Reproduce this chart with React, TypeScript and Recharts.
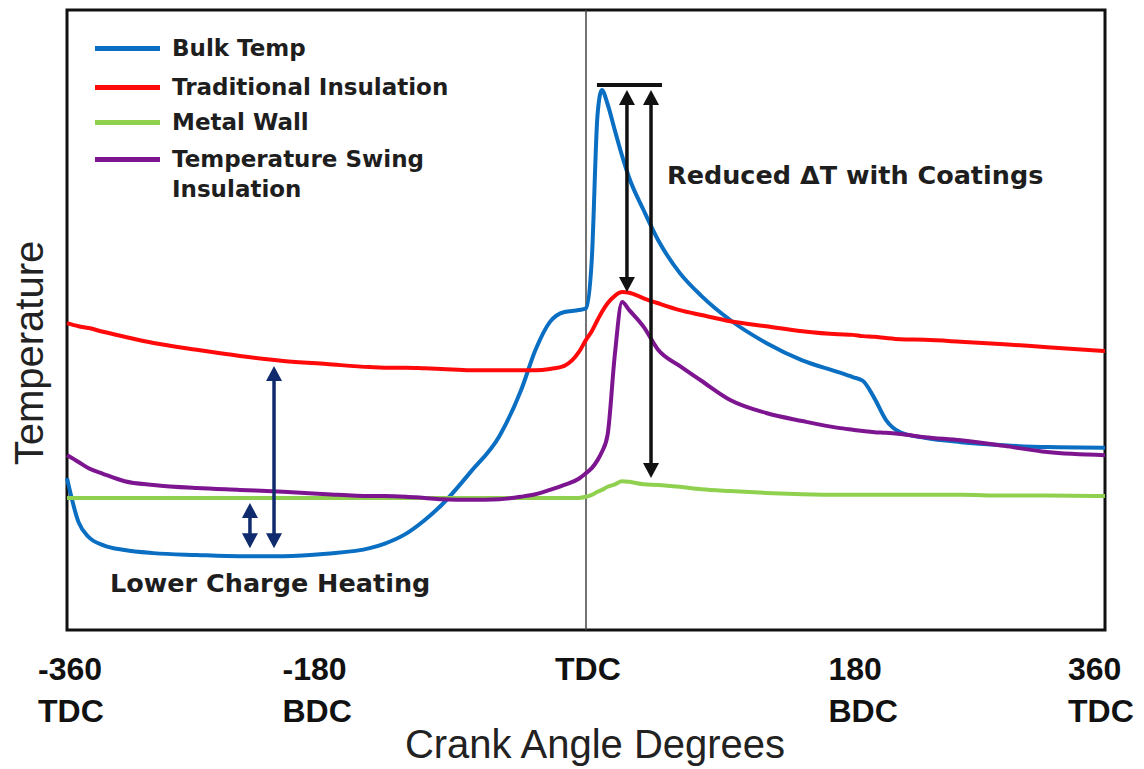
import React from "react";
import {
  ComposedChart,
  Line,
  XAxis,
  YAxis,
  Legend,
  ReferenceLine,
  ReferenceArea,
  ReferenceDot,
} from "recharts";

// crank angle (deg) where every curve is sampled
const angles = [
  -360, -352, -345, -335, -320, -300, -270, -240, -210, -180,
  -150, -140, -125, -112, -100,
  -80, -60, -45, -35, -25, -15, -5,
  0, 4, 8, 11, 15, 20, 25, 30, 40, 50,
  65, 80, 100, 125, 150,
  175, 185, 192, 200, 208, 218, 235,
  260, 290, 320, 360,
];

// temperature in arbitrary units (0 = bottom of frame, 100 = top)
const bulkTemp = [
  24.5, 17.4, 15.0, 13.7, 12.9, 12.4, 12.1, 11.9, 11.9, 12.3,
  13.2, 13.9, 15.5, 17.7, 20.2,
  25.5, 31.3, 38.7, 45.2, 49.7, 51.3, 51.6,
  51.9, 59.7, 83.1, 87.1, 84.8, 80.6, 76.5, 72.9, 67.7, 62.9,
  57.6, 53.9, 50.0, 46.3, 43.5,
  41.6, 40.8, 40.2, 37.4, 33.9, 31.9, 31.0,
  30.3, 29.8, 29.5, 29.4,
];

const traditionalInsulation = [
  49.5, 49.0, 48.7, 48.1, 47.3, 46.3, 45.2, 44.2, 43.4, 42.9,
  42.4, 42.3, 42.3, 42.2, 42.1,
  41.9, 41.9, 41.9, 41.9, 42.1, 42.6, 44.8,
  46.8, 48.2, 50.0, 51.3, 52.7, 53.9, 54.5, 54.4, 53.5, 52.7,
  51.6, 50.8, 49.8, 49.0, 48.2,
  47.7, 47.6, 47.4, 47.3, 47.1, 46.9, 46.8,
  46.5, 46.1, 45.6, 45.0,
];

const metalWall = [
  21.3, 21.3, 21.3, 21.3, 21.3, 21.3, 21.3, 21.3, 21.3, 21.3,
  21.3, 21.3, 21.3, 21.3, 21.3,
  21.3, 21.3, 21.3, 21.3, 21.3, 21.3, 21.3,
  21.5, 21.8, 22.3, 22.6, 23.1, 23.5, 24.0, 23.9, 23.5, 23.4,
  23.1, 22.7, 22.4, 22.1, 21.9,
  21.8, 21.8, 21.8, 21.8, 21.8, 21.8, 21.8,
  21.8, 21.7, 21.7, 21.6,
];

const tempSwingInsulation = [
  28.2, 27.1, 26.1, 25.2, 24.0, 23.4, 22.9, 22.6, 22.3, 21.9,
  21.6, 21.6, 21.5, 21.3, 21.1,
  21.0, 21.1, 21.5, 21.9, 22.6, 23.4, 24.4,
  25.3, 26.1, 27.4, 28.7, 31.5, 44.4, 52.9, 51.6, 48.9, 45.2,
  42.6, 40.2, 37.1, 35.0, 33.7,
  32.6, 32.3, 32.1, 31.9, 31.8, 31.6, 31.1,
  30.6, 29.7, 28.7, 28.2,
];

const tickValues = [-360, -180, 0, 180, 360];
const tickTop = ["-360", "-180", "TDC", "180", "360"];
const tickBottom = ["TDC", "BDC", "", "BDC", "TDC"];
// the two-line tick labels are left aligned, a little off their tick
const tickShift = [-29, -44, -31, -17, -37];

const series = [
  { key: "bulk", name: "Bulk Temp", color: "#0a6fc2" },
  { key: "traditional", name: "Traditional Insulation", color: "#ff0a0a" },
  { key: "metal", name: "Metal Wall", color: "#8fd14f" },
  { key: "swing", name: "Temperature Swing Insulation", color: "#7d1590" },
];

const data = angles.map((angle, i) => ({
  angle,
  bulk: bulkTemp[i],
  traditional: traditionalInsulation[i],
  metal: metalWall[i],
  swing: tempSwingInsulation[i],
}));

const boldFont = "'DejaVu Sans', Verdana, sans-serif";
const plainFont = "'Liberation Sans', Arial, sans-serif";

// vertical double-headed arrow drawn over a ReferenceLine segment
const makeArrow = (color: string, width: number, head: number, headW: number) => (props: any) => {
  const { x1, y1, x2, y2 } = props;
  if (x1 == null || y1 == null) return <g />;
  const x = (x1 + x2) / 2;
  const top = Math.min(y1, y2);
  const bottom = Math.max(y1, y2);
  return (
    <g>
      <line x1={x} y1={top + head - 1} x2={x} y2={bottom - head + 1} stroke={color} strokeWidth={width} />
      <polygon points={`${x},${top} ${x - headW / 2},${top + head} ${x + headW / 2},${top + head}`} fill={color} />
      <polygon points={`${x},${bottom} ${x - headW / 2},${bottom - head} ${x + headW / 2},${bottom - head}`} fill={color} />
    </g>
  );
};

const blackArrow = makeArrow("#111", 3.5, 15, 16);
const navyArrow = makeArrow("#102a6e", 3.5, 15, 16);

const AngleTick = ({ x, y, payload }: any) => {
  const i = tickValues.indexOf(payload.value);
  const left = x + tickShift[i];
  return (
    <g fill="#111" fontFamily={plainFont} fontWeight="bold" fontSize={32}>
      <text x={left} y={y + 48} textAnchor="start">{tickTop[i]}</text>
      <text x={left} y={y + 90} textAnchor="start">{tickBottom[i]}</text>
    </g>
  );
};

const XTitle = ({ viewBox }: any) => (
  <text
    x={viewBox.x + viewBox.width / 2 + 9}
    y={758}
    textAnchor="middle"
    fontFamily={plainFont}
    fontSize={40}
    fill="#222"
  >
    Crank Angle Degrees
  </text>
);

const YTitle = () => (
  <text
    x={43}
    y={353}
    transform="rotate(-90, 43, 353)"
    textAnchor="middle"
    fontFamily={plainFont}
    fontSize={40}
    fill="#222"
  >
    Temperature
  </text>
);

const LegendBox = () => {
  const rows = [48, 87, 122, 159];
  return (
    <div style={{ position: "relative", width: 420, height: 220 }}>
      {series.map((s, i) => (
        <React.Fragment key={s.key}>
          <div
            style={{
              position: "absolute",
              left: 95,
              top: rows[i] - 2.5,
              width: 65,
              height: 5,
              background: s.color,
            }}
          />
          <div
            style={{
              position: "absolute",
              left: 172,
              top: rows[i] - 14,
              lineHeight: "28px",
              fontFamily: boldFont,
              fontWeight: "bold",
              fontSize: 23,
              color: "#1e1e1e",
              whiteSpace: "nowrap",
            }}
          >
            {i === 3 ? (
              <>
                Temperature Swing
                <br />
                <span style={{ lineHeight: "33px" }}>Insulation</span>
              </>
            ) : (
              s.name
            )}
          </div>
        </React.Fragment>
      ))}
    </div>
  );
};

const makeText = (text: string, size: number) => (props: any) =>
  (
    <text
      x={props.cx}
      y={props.cy}
      fontFamily={boldFont}
      fontWeight="bold"
      fontSize={size}
      fill="#1e1e1e"
    >
      {text}
    </text>
  );

export default function App() {
  return (
    <div style={{ position: "absolute", left: 0, top: 0, background: "#fff" }}>
      <ComposedChart
        width={1144}
        height={769}
        data={data}
        margin={{ top: 10, right: 39, left: 0, bottom: 0 }}
      >
        <XAxis
          dataKey="angle"
          type="number"
          domain={[-360, 360]}
          ticks={tickValues}
          interval={0}
          axisLine={false}
          tickLine={false}
          tickSize={0}
          tick={<AngleTick />}
          height={139}
          label={<XTitle />}
        />
        <YAxis
          type="number"
          domain={[0, 100]}
          width={67}
          tick={false}
          axisLine={false}
          tickLine={false}
          label={<YTitle />}
        />
        <Legend
          layout="vertical"
          align="center"
          verticalAlign="middle"
          content={<LegendBox />}
          wrapperStyle={{ left: 0, top: 0, width: 420, height: 220 }}
        />
        <ReferenceArea
          x1={-360}
          x2={360}
          y1={0}
          y2={100}
          fill="none"
          stroke="#111"
          strokeWidth={3}
        />
        <ReferenceLine x={0} stroke="#444" strokeWidth={1.5} />
        {series.map((s) => (
          <Line
            key={s.key}
            type="monotone"
            dataKey={s.key}
            name={s.name}
            stroke={s.color}
            strokeWidth={4}
            dot={false}
            activeDot={false}
            isAnimationActive={false}
          />
        ))}
        <ReferenceLine
          segment={[{ x: 7.6, y: 87.9 }, { x: 52.7, y: 87.9 }]}
          stroke="#111"
          strokeWidth={4}
        />
        <ReferenceLine segment={[{ x: 28.4, y: 87.1 }, { x: 28.4, y: 54.5 }]} shape={blackArrow} />
        <ReferenceLine segment={[{ x: 45.1, y: 87.1 }, { x: 45.1, y: 24.5 }]} shape={blackArrow} />
        <ReferenceLine segment={[{ x: -216.4, y: 42.6 }, { x: -216.4, y: 13.2 }]} shape={navyArrow} />
        <ReferenceLine segment={[{ x: -233.1, y: 20.5 }, { x: -233.1, y: 13.2 }]} shape={navyArrow} />
        <ReferenceDot x={56.2} y={71.9} r={0} shape={makeText("Reduced \u0394T with Coatings", 25.5)} />
        <ReferenceDot x={-330.2} y={6.1} r={0} shape={makeText("Lower Charge Heating", 25.5)} />
      </ComposedChart>
    </div>
  );
}
